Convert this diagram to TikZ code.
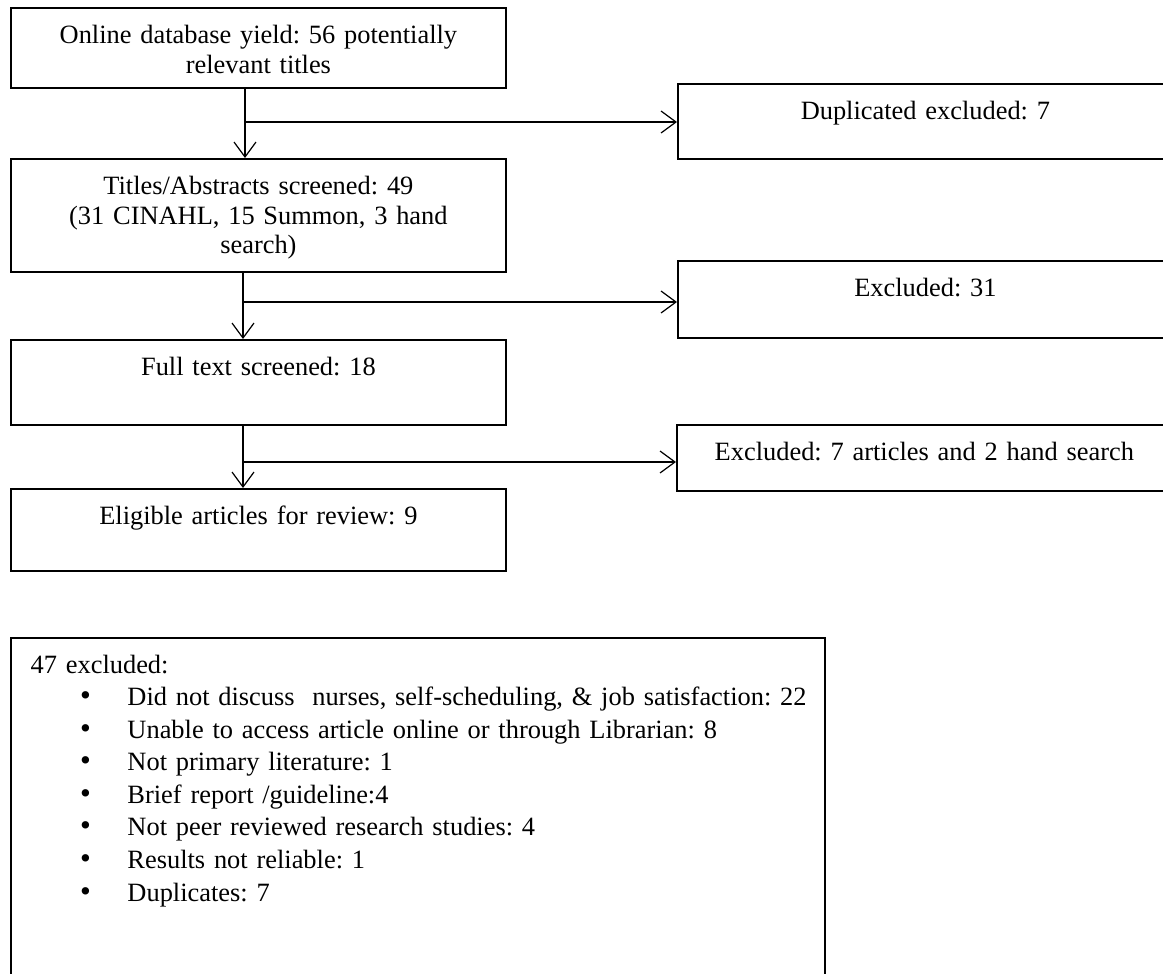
\documentclass[tikz,border=0pt]{standalone}
\usepackage{fontspec}
\setmainfont{Liberation Serif}
\usetikzlibrary{arrows.meta, positioning}
\frenchspacing

\newcommand{\reason}[1]{\hspace*{22.5pt}\makebox[21.5pt][l]{\fontsize{14}{14}\selectfont\textbullet}\mbox{#1}}

\tikzset{
    stagebox/.style={draw, line width=0.8pt, anchor=north west,
        text width=210pt, align=center, inner xsep=7.5pt, inner ysep=0pt,
        text height=16pt, font=\fontsize{12}{13.6}\selectfont},
    reasonbox/.style={stagebox, text width=352pt, inner xsep=9pt, align=left,
        font=\fontsize{12}{14.8}\selectfont},
    flow/.style={line width=0.55pt,
        -{Straight Barb[length=6.8pt, width=10pt, line width=0.55pt]}},
}

\begin{document}
\begin{tikzpicture}[x=0.4545pt, y=-0.4545pt]
    \useasboundingbox (0,0) rectangle (1163,974);
    \clip (0,0) rectangle (1163,974);

    % main column
    \node[stagebox, text depth=20.4pt] (yield) at (10,7)
        {Online database yield: 56 potentially\\ relevant titles};
    \node[stagebox, text depth=35.4pt] (screen) at (10,158)
        {Titles/Abstracts screened: 49\\ (31 CINAHL, 15 Summon, 3 hand\\ search)};
    \node[stagebox, text depth=22.6pt] (fulltext) at (10,339)
        {Full text screened: 18};
    \node[stagebox, text depth=21.3pt] (eligible) at (10,488)
        {Eligible articles for review: 9};

    % exclusions on the right
    \node[stagebox, text depth=18.1pt] (dup) at (677,83)
        {Duplicated excluded: 7};
    \node[stagebox, text depth=19pt] (excl31) at (677,260)
        {Excluded: 31};
    \node[stagebox, text depth=14pt] (excl9) at (676,424)
        {Excluded: 7 articles and 2 hand search};

    % summary of exclusions
    \node[reasonbox, text depth=147.6pt] (reasons) at (10,637)
        {47 excluded:\\
         \reason{Did not discuss~~nurses, self-scheduling, \& job satisfaction: 22}\\
         \reason{Unable to access article online or through Librarian: 8}\\
         \reason{Not primary literature: 1}\\
         \reason{Brief report /guideline:4}\\
         \reason{Not peer reviewed research studies: 4}\\
         \reason{Results not reliable: 1}\\
         \reason{Duplicates: 7}};

    \coordinate (fork1) at (245,122);
    \coordinate (fork2) at (243,302);
    \coordinate (fork3) at (243,462);

    \draw[flow] (fork1 |- yield.south) -- (fork1 |- screen.north);
    \draw[flow] (fork1) -- (fork1 -| dup.west);
    \draw[flow] (fork2 |- screen.south) -- (fork2 |- fulltext.north);
    \draw[flow] (fork2) -- (fork2 -| excl31.west);
    \draw[flow] (fork3 |- fulltext.south) -- (fork3 |- eligible.north);
    \draw[flow] (fork3) -- (fork3 -| excl9.west);
\end{tikzpicture}
\end{document}
